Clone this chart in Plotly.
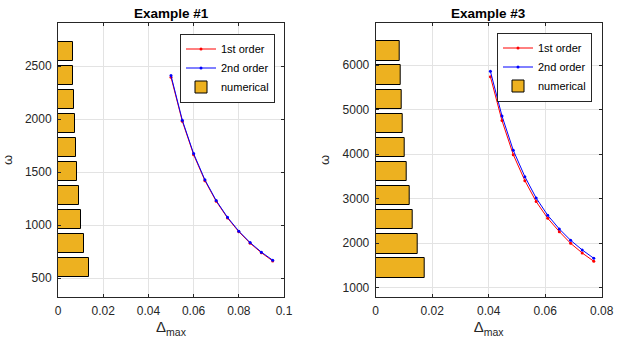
import numpy as np
import plotly.graph_objects as go

# ---------------- Example #1 ----------------
ex1_delta = [0.050, 0.055, 0.060, 0.065, 0.070, 0.075, 0.080, 0.085, 0.090, 0.095]
ex1_first = [2395, 1980, 1665, 1420, 1225, 1068, 938, 830, 740, 663]
ex1_second = [2410, 1990, 1675, 1428, 1232, 1074, 944, 836, 746, 670]
ex1_bar_pos = [598, 824, 1051, 1277, 1503, 1730, 1956, 2182, 2409, 2635]
ex1_bar_val = [0.0136, 0.0115, 0.0103, 0.0093, 0.0086, 0.0080, 0.0075, 0.0071, 0.0068, 0.0065]

# ---------------- Example #3 ----------------
ex3_delta = [0.0406, 0.0447, 0.0487, 0.0528, 0.0568, 0.0609, 0.0650, 0.0690, 0.0731, 0.0772]
ex3_first = [5745, 4756, 3990, 3406, 2934, 2559, 2259, 1996, 1779, 1592]
ex3_second = [5865, 4860, 4088, 3496, 3015, 2626, 2319, 2064, 1847, 1659]
ex3_bar_pos = [1442, 1984, 2526, 3068, 3610, 4154, 4696, 5238, 5780, 6322]
ex3_bar_val = [0.0175, 0.0149, 0.0132, 0.0119, 0.0110, 0.0103, 0.0097, 0.0092, 0.0087, 0.0084]

titles = ["Example #1", "Example #3"]
legend_labels = ["1st order", "2nd order", "numerical"]

W, H = 627, 341
FONT = "Liberation Sans, Arial, Helvetica, sans-serif"
TXT = "#262626"
BAR_COLOR = "#EDB120"

fig = go.Figure()

panels = [
    dict(delta=ex1_delta, first=ex1_first, second=ex1_second, pos=ex1_bar_pos, val=ex1_bar_val,
         xa="x", ya="y", legend="legend"),
    dict(delta=ex3_delta, first=ex3_first, second=ex3_second, pos=ex3_bar_pos, val=ex3_bar_val,
         xa="x2", ya="y2", legend="legend2"),
]

for p in panels:
    spacing = float(np.mean(np.diff(p["pos"])))
    fig.add_trace(go.Bar(
        x=p["val"], y=p["pos"], orientation="h", width=0.8 * spacing,
        marker=dict(color=BAR_COLOR, line=dict(color="black", width=1)),
        name=legend_labels[2], xaxis=p["xa"], yaxis=p["ya"], legend=p["legend"],
        legendrank=3,
    ))
    fig.add_trace(go.Scatter(
        x=p["delta"], y=p["first"], mode="lines+markers",
        line=dict(color="#ff0000", width=1), marker=dict(color="#ff0000", size=3),
        name=legend_labels[0], xaxis=p["xa"], yaxis=p["ya"], legend=p["legend"],
        legendrank=1,
    ))
    fig.add_trace(go.Scatter(
        x=p["delta"], y=p["second"], mode="lines+markers",
        line=dict(color="#0000ff", width=1), marker=dict(color="#0000ff", size=3),
        name=legend_labels[1], xaxis=p["xa"], yaxis=p["ya"], legend=p["legend"],
        legendrank=2,
    ))

def px_x(v):
    return v / W

def px_y(v):
    return 1 - v / H

axis_common = dict(
    showline=True, linecolor=TXT, linewidth=1, mirror="ticks",
    ticks="inside", ticklen=3, tickcolor=TXT, tickwidth=1,
    showgrid=True, gridcolor="#e3e3e3", gridwidth=1, zeroline=False,
    tickfont=dict(family=FONT, size=12, color=TXT), automargin=False,
)

y_top, y_bot = 23, 297
xtitle = dict(text="Δ<sub>max</sub>", font=dict(family=FONT, size=15, color=TXT), standoff=1)
ytitle = dict(text="ω", font=dict(family=FONT, size=13, color=TXT), standoff=10)
legend_common = dict(xanchor="right", yanchor="top", bgcolor="white", bordercolor=TXT,
                     borderwidth=1, font=dict(family=FONT, size=11, color="black"),
                     tracegroupgap=0)

fig.update_layout(
    width=W, height=H,
    margin=dict(l=0, r=0, t=0, b=0),
    paper_bgcolor="white", plot_bgcolor="white",
    bargap=0,
    barmode="overlay",
    xaxis=dict(domain=[px_x(58), px_x(284)], range=[0, 0.1], dtick=0.02, anchor="y",
               title=xtitle, ticklabelstandoff=3, **axis_common),
    yaxis=dict(domain=[px_y(y_bot), px_y(y_top)], range=[323, 2906], dtick=500, anchor="x",
               title=ytitle, ticklabelstandoff=3, **axis_common),
    xaxis2=dict(domain=[px_x(375.7), px_x(601.7)], range=[0, 0.08], dtick=0.02, anchor="y2",
                title=xtitle, ticklabelstandoff=3, **axis_common),
    yaxis2=dict(domain=[px_y(y_bot), px_y(y_top)], range=[789, 6951], dtick=1000, anchor="x2",
                title=ytitle, ticklabelstandoff=3, **axis_common),
    legend=dict(x=px_x(275), y=px_y(33.5), **legend_common),
    legend2=dict(x=px_x(592), y=px_y(32.5), **legend_common),
    showlegend=True,
)

for t, (x0, x1) in zip(titles, [(58, 284), (375.7, 601.7)]):
    fig.add_annotation(
        text=f"<b>{t}</b>", xref="paper", yref="paper",
        x=px_x((x0 + x1) / 2), y=px_y(y_top), xanchor="center", yanchor="bottom",
        yshift=0, showarrow=False, font=dict(family=FONT, size=13.5, color="black"),
    )

fig.write_html(
    "out.html",
    config={"displayModeBar": False},
    post_script="document.body.style.margin='0';document.body.style.overflow='hidden';",
)
